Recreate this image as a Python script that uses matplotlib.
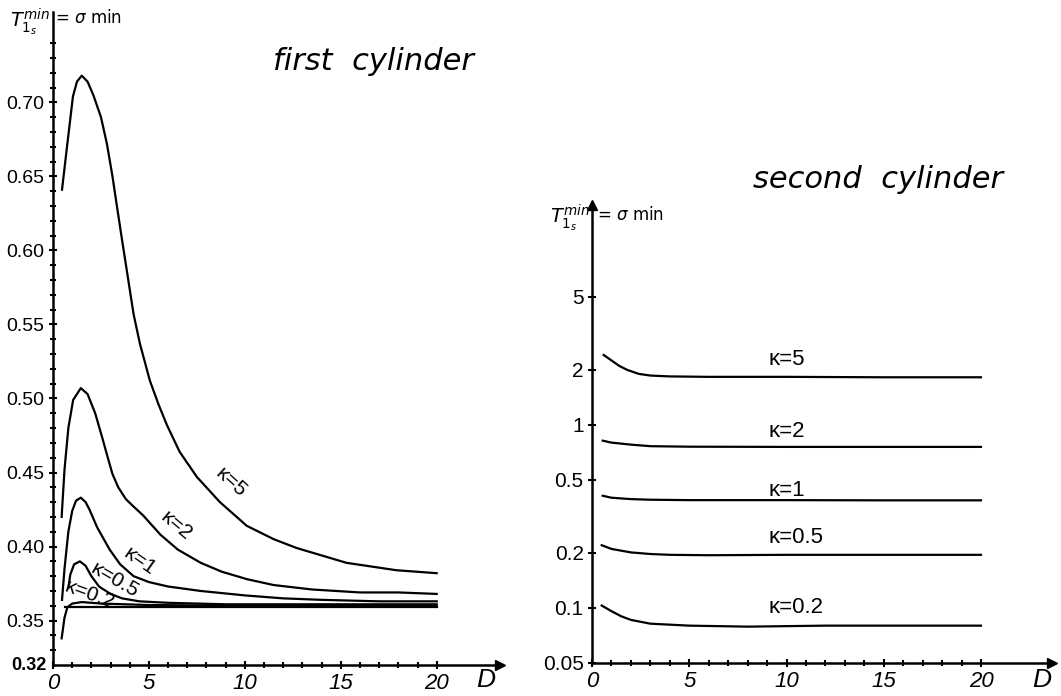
import numpy as np
import matplotlib
matplotlib.use("Agg")
import matplotlib.pyplot as plt

# ---- first cylinder (linear axis) ----
d_k5 = [0.47, 0.73, 1.04, 1.25, 1.5, 1.8, 2.1, 2.5, 2.81, 3.1, 3.33, 3.6, 3.9, 4.2,
        4.53, 5.05, 5.5, 5.94, 6.6, 7.5, 8.7, 10.1, 11.5, 12.7, 15.3, 17.9, 20]
s_k5 = [0.641, 0.670, 0.704, 0.714, 0.718, 0.714, 0.705, 0.690, 0.672, 0.650, 0.630,
        0.607, 0.582, 0.557, 0.537, 0.512, 0.496, 0.482, 0.464, 0.447, 0.430, 0.414,
        0.405, 0.399, 0.389, 0.384, 0.382]
d_k2 = [0.45, 0.6, 0.8, 1.05, 1.45, 1.8, 2.2, 2.6, 2.9, 3.1, 3.4, 3.8, 4.2, 4.7, 5.6,
        6.5, 7.7, 8.8, 10.1, 11.5, 13.5, 16, 18, 20]
s_k2 = [0.420, 0.452, 0.480, 0.499, 0.507, 0.503, 0.490, 0.472, 0.458, 0.449, 0.440,
        0.432, 0.427, 0.421, 0.408, 0.398, 0.389, 0.383, 0.378, 0.374, 0.371, 0.369,
        0.369, 0.368]
d_k1 = [0.47, 0.6, 0.8, 1.0, 1.2, 1.45, 1.7, 1.9, 2.3, 2.95, 3.5, 4.2, 5.0, 6.0, 7.7,
        10, 12, 14, 17, 20]
s_k1 = [0.364, 0.385, 0.410, 0.424, 0.431, 0.433, 0.430, 0.425, 0.413, 0.398, 0.388,
        0.380, 0.376, 0.373, 0.370, 0.367, 0.365, 0.364, 0.363, 0.363]
d_k05 = [0.8, 0.9, 1.1, 1.4, 1.7, 2.0, 2.4, 3.0, 3.6, 4.5, 6, 9, 13, 20]
s_k05 = [0.372, 0.381, 0.388, 0.390, 0.387, 0.380, 0.373, 0.368, 0.365, 0.363, 0.362,
         0.361, 0.361, 0.361]
d_k02 = [0.45, 0.6, 0.75, 1.0, 1.5, 2.5, 5, 10, 20]
s_k02 = [0.338, 0.352, 0.359, 0.3615, 0.3625, 0.3615, 0.3605, 0.360, 0.360]
d_base = [0.6, 20]
s_base = [0.3595, 0.3595]

first_labels = ["κ=5", "κ=2", "κ=1", "κ=0.5", "κ=0.2"]
first_lab_d = [9.3, 6.4, 4.5, 3.2, 1.9]
first_lab_s = [0.443, 0.414, 0.390, 0.377, 0.3672]
first_lab_rot = [-42, -40, -35, -30, -20]

# ---- second cylinder (log axis) ----
d2_k5 = [0.6, 1.0, 1.4, 1.8, 2.4, 3.0, 4, 6, 10, 15, 20]
s2_k5 = [2.41, 2.25, 2.1, 2.0, 1.9, 1.86, 1.84, 1.83, 1.83, 1.82, 1.82]
d2_k2 = [0.55, 1, 2, 3, 5, 10, 15, 20]
s2_k2 = [0.82, 0.80, 0.78, 0.765, 0.76, 0.758, 0.758, 0.758]
d2_k1 = [0.55, 1, 2, 3, 5, 10, 15, 20]
s2_k1 = [0.41, 0.40, 0.393, 0.39, 0.388, 0.388, 0.387, 0.387]
d2_k05 = [0.5, 1, 2, 3, 4, 6, 10, 15, 20]
s2_k05 = [0.22, 0.21, 0.201, 0.197, 0.195, 0.194, 0.195, 0.195, 0.195]
d2_k02 = [0.5, 1, 1.5, 2, 3, 5, 8, 12, 16, 20]
s2_k02 = [0.103, 0.096, 0.090, 0.086, 0.082, 0.080, 0.079, 0.080, 0.080, 0.080]

second_labels = ["κ=5", "κ=2", "κ=1", "κ=0.5", "κ=0.2"]
second_lab_d = [10.0, 10.0, 10.0, 10.5, 10.5]
second_lab_s = [2.27, 0.915, 0.44, 0.244, 0.101]

x_ticks = [0, 5, 10, 15, 20]
y1_ticks = [0.35, 0.40, 0.45, 0.50, 0.55, 0.60, 0.65, 0.70]
y1_ticklabels = ["0.35", "0.40", "0.45", "0.50", "0.55", "0.60", "0.65", "0.70"]
y2_ticks = [0.05, 0.1, 0.2, 0.5, 1, 2, 5]
y2_ticklabels = ["0.05", "0.1", "0.2", "0.5", "1", "2", "5"]

fnt = ["Liberation Sans", "DejaVu Sans"]

fig = plt.figure(figsize=(10.61, 6.96), dpi=100)
W, H = 1061, 696

ax1 = fig.add_axes([53 / W, (H - 665) / H, (500 - 53) / W, (665 - 12) / H])
ax2 = fig.add_axes([592 / W, (H - 663) / H, (1052 - 592) / W, (663 - 205) / H])

for ax in (ax1, ax2):
    for sp in ("top", "right"):
        ax.spines[sp].set_visible(False)
    for sp in ("left", "bottom"):
        ax.spines[sp].set_linewidth(1.8)
    ax.plot(1, 0, ">k", ms=7, transform=ax.transAxes, clip_on=False)
    ax.set_xticks(x_ticks)
    ax.set_xticklabels([str(t) for t in x_ticks], fontsize=16, style="italic",
                       family=fnt)
    ax.set_xticks(np.arange(1, 21), minor=True)
    ax.tick_params(axis="both", which="both", direction="inout", width=1.5,
                   color="black", pad=3)
    ax.tick_params(axis="both", which="major", length=6)
    ax.tick_params(axis="both", which="minor", length=4)
    ax.set_facecolor("none")

# first cylinder
ax1.set_xlim(0, 23.3)
ax1.set_ylim(0.32, 0.761)
for d, s in [(d_k5, s_k5), (d_k2, s_k2), (d_k1, s_k1), (d_k05, s_k05),
             (d_k02, s_k02), (d_base, s_base)]:
    ax1.plot(d, s, color="black", lw=1.6)
ax1.set_yticks(y1_ticks)
ax1.set_yticklabels(y1_ticklabels, fontsize=14, family=fnt)
ax1.set_yticks(np.arange(0.33, 0.75, 0.01), minor=True)
for lab, d, s, r in zip(first_labels, first_lab_d, first_lab_s, first_lab_rot):
    ax1.text(d, s, lab, rotation=r, fontsize=15, ha="center", va="center",
             family=fnt, rotation_mode="anchor")
ax1.text(-0.35, 0.32, "0.32", fontsize=13, weight="bold", ha="right", va="center",
         family=fnt)

# second cylinder
ax2.set_yscale("log")
ax2.set_xlim(0, 23.65)
ax2.set_ylim(0.05, 15.9)
for d, s in [(d2_k5, s2_k5), (d2_k2, s2_k2), (d2_k1, s2_k1), (d2_k05, s2_k05),
             (d2_k02, s2_k02)]:
    ax2.plot(d, s, color="black", lw=1.6)
ax2.set_yticks(y2_ticks)
ax2.set_yticklabels(y2_ticklabels, fontsize=15, family=fnt)
ax2.yaxis.set_minor_locator(matplotlib.ticker.NullLocator())
ax2.plot(0, 1, "^k", ms=7, transform=ax2.transAxes, clip_on=False)
for lab, d, s in zip(second_labels, second_lab_d, second_lab_s):
    ax2.text(d, s, lab, fontsize=16, ha="center", va="center", family=fnt)

# axis names
fig.text(486 / W, 1 - 680 / H, "D", fontsize=19, style="italic", ha="center",
         va="center", family=fnt)
fig.text(1042 / W, 1 - 680 / H, "D", fontsize=19, style="italic", ha="center",
         va="center", family=fnt)

# axis titles and panel titles
fig.text(50 / W, 1 - 22 / H, r"$T_{1_s}^{min}$", fontsize=14, ha="right", va="center")
fig.text(55 / W, 1 - 18 / H, r"= $\sigma$ min", fontsize=12, ha="left", va="center")
fig.text(590 / W, 1 - 218 / H, r"$T_{1_s}^{min}$", fontsize=14, ha="right", va="center")
fig.text(597 / W, 1 - 215 / H, r"= $\sigma$ min", fontsize=12, ha="left", va="center")
fig.text(373 / W, 1 - 62 / H, "first  cylinder", fontsize=22, style="italic",
         ha="center", va="center")
fig.text(878 / W, 1 - 180 / H, "second  cylinder", fontsize=22, style="italic",
         ha="center", va="center")

fig.savefig("out.png", dpi=100)
